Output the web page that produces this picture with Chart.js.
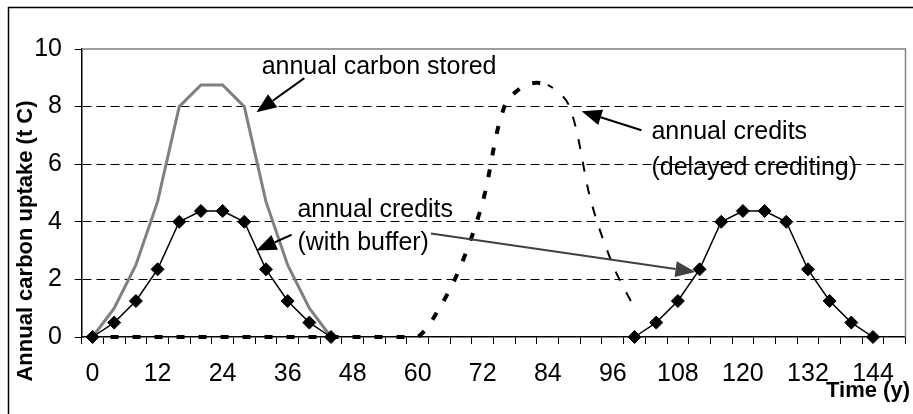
<!DOCTYPE html>
<html>
<head>
<meta charset="utf-8">
<script src="https://cdn.jsdelivr.net/npm/chart.js@4.4.1/dist/chart.umd.min.js"></script>
<style>
html,body{margin:0;padding:0;background:#ffffff;}
#wrap{width:913px;height:414px;position:relative;}
</style>
</head>
<body>
<div id="wrap"><canvas id="c"></canvas></div>
<script>
// ---- data ----
const years = [0,4,8,12,16,20,24,28,32,36,40,44,48,52,56,60,64,68,72,76,80,84,88,92,96,100,104,108,112,116,120,124,128,132,136,140,144,148];
const labelledYears = [0,12,24,36,48,60,72,84,96,108,120,132,144];
const yTickValues = [0,2,4,6,8,10];
const carbonStored = [0,1.0,2.5,4.7,8.0,8.75,8.75,8.0,4.7,2.5,1.0,0,
  null,null,null,null,null,null,null,null,null,null,null,null,null,null,null,null,null,null,null,null,null,null,null,null,null,null];
const creditsWithBuffer = [0,0.5,1.25,2.35,4.0,4.375,4.375,4.0,2.35,1.25,0.5,0,
  null,null,null,null,null,null,null,null,null,null,null,null,null,
  0,0.5,1.25,2.35,4.0,4.375,4.375,4.0,2.35,1.25,0.5,0,null];
const creditsDelayed = [0,0,0,0,0,0,0,0,0,0,0,0,0,0,0,0,1.0,2.5,4.7,8.0,8.75,8.75,8.0,4.7,2.5,1.0,
  null,null,null,null,null,null,null,null,null,null,null,null];
const yAxisTitle = 'Annual carbon uptake (t C)';
const xAxisTitle = 'Time (y)';

const FONT = '"Liberation Sans", Arial, Helvetica, sans-serif';

function drawArrow(ctx, x0, y0, x1, y1, color, len, half) {
  const a = Math.atan2(y1 - y0, x1 - x0);
  const bx = x1 - len * Math.cos(a), by = y1 - len * Math.sin(a);
  ctx.save();
  ctx.strokeStyle = color; ctx.lineWidth = 2;
  ctx.beginPath(); ctx.moveTo(x0, y0); ctx.lineTo(bx, by); ctx.stroke();
  ctx.fillStyle = color;
  ctx.beginPath();
  ctx.moveTo(x1, y1);
  ctx.lineTo(bx - half * Math.sin(a), by + half * Math.cos(a));
  ctx.lineTo(bx + half * Math.sin(a), by - half * Math.cos(a));
  ctx.closePath(); ctx.fill();
  ctx.restore();
}

const decor = {
  id: 'decor',
  beforeDatasetsDraw(chart) {
    const ctx = chart.ctx, a = chart.chartArea;
    ctx.save();
    // outer chart border
    ctx.strokeStyle = '#000'; ctx.lineWidth = 1.5;
    ctx.beginPath(); ctx.moveTo(8.5, 414); ctx.lineTo(8.5, 7.5); ctx.lineTo(913, 7.5); ctx.stroke();
    // plot area top & right border
    ctx.strokeStyle = '#808080'; ctx.lineWidth = 1.5;
    ctx.beginPath(); ctx.moveTo(a.left, a.top); ctx.lineTo(a.right, a.top); ctx.lineTo(a.right, a.bottom); ctx.stroke();
    // last boundary tick
    ctx.strokeStyle = '#000'; ctx.lineWidth = 1;
    ctx.beginPath(); ctx.moveTo(a.right, a.bottom); ctx.lineTo(a.right, a.bottom + 7); ctx.stroke();
    ctx.restore();
  },
  afterDatasetsDraw(chart) {
    const ctx = chart.ctx, xs = chart.scales.x, ys = chart.scales.y;
    const P = (i, v) => [xs.getPixelForValue(i), ys.getPixelForValue(v)];
    ctx.save();
    ctx.fillStyle = '#000';
    ctx.font = '25px ' + FONT;
    ctx.textAlign = 'left'; ctx.textBaseline = 'alphabetic';
    let p;
    p = P(7.8, 9.13); ctx.fillText('annual carbon stored', p[0], p[1]);
    p = P(25.78, 6.86); ctx.fillText('annual credits', p[0], p[1]);
    p = P(25.78, 5.64); ctx.fillText('(delayed crediting)', p[0], p[1]);
    p = P(9.45, 4.18); ctx.fillText('annual credits', p[0], p[1]);
    p = P(9.45, 3.03); ctx.fillText('(with buffer)', p[0], p[1]);
    let s, t;
    s = P(9.77, 8.99); t = P(7.56, 7.80); drawArrow(ctx, s[0], s[1], t[0], t[1], '#000', 20, 8);
    s = P(25.32, 7.18); t = P(22.56, 7.84); drawArrow(ctx, s[0], s[1], t[0], t[1], '#000', 20, 8);
    s = P(9.18, 3.55); t = P(7.56, 3.0); drawArrow(ctx, s[0], s[1], t[0], t[1], '#000', 20, 8);
    s = P(15.61, 3.59); t = P(27.81, 2.26); drawArrow(ctx, s[0], s[1], t[0], t[1], '#404040', 20, 8);
    // axis titles
    ctx.font = 'bold 22px ' + FONT;
    ctx.save();
    ctx.translate(26, 241); ctx.rotate(-Math.PI / 2);
    ctx.textAlign = 'center'; ctx.textBaseline = 'middle';
    ctx.fillText(yAxisTitle, 0, 0);
    ctx.restore();
    ctx.textAlign = 'right'; ctx.textBaseline = 'alphabetic';
    ctx.fillText(xAxisTitle, 910, 397);
    ctx.restore();
  }
};

const falling = c => c.p1.parsed.y < c.p0.parsed.y;

new Chart(document.getElementById('c'), {
  type: 'line',
  data: {
    labels: years.map(String),
    datasets: [
      {
        label: 'annual credits (with buffer)',
        data: creditsWithBuffer,
        borderColor: '#000', borderWidth: 1.5,
        pointStyle: 'rectRot', pointRadius: 6.5, pointBackgroundColor: '#000', pointBorderColor: '#000', pointBorderWidth: 1,
        tension: 0, clip: false, spanGaps: false
      },
      {
        label: 'annual credits (delayed crediting)',
        data: creditsDelayed,
        borderColor: '#000', borderWidth: 4, borderDash: [8, 14], borderDashOffset: 4,
        borderCapStyle: 'butt',
        pointRadius: 0, tension: 0.33, clip: false,
        segment: {
          borderWidth: c => falling(c) ? 2 : 4,
          borderDash: c => falling(c) ? [10, 13] : [8, 14]
        }
      },
      {
        label: 'annual carbon stored',
        data: carbonStored,
        borderColor: '#808080', borderWidth: 3,
        pointRadius: 0, tension: 0, clip: false
      }
    ]
  },
  options: {
    responsive: true, maintainAspectRatio: false, animation: false,
    layout: { padding: { left: 0, top: 49, right: 6, bottom: 0 } },
    plugins: { legend: { display: false }, tooltip: { enabled: false } },
    scales: {
      x: {
        type: 'category', offset: true,
        afterFit: s => { s.height = 77; },
        grid: { offset: true, drawOnChartArea: false, drawTicks: true, tickLength: 7, tickColor: '#000', tickWidth: 1 },
        border: { display: true, color: '#000', width: 1.5 },
        ticks: {
          autoSkip: false, maxRotation: 0, minRotation: 0, padding: 15, color: '#000',
          font: { family: FONT, size: 25 },
          callback: (v, i) => labelledYears.includes(years[i]) ? String(years[i]) : ''
        }
      },
      y: {
        min: 0, max: 10,
        afterFit: s => { s.width = 81.7; },
        afterBuildTicks: s => { s.ticks = yTickValues.map(v => ({ value: v })); },
        grid: {
          color: c => (c.tick && (c.tick.value === 0 || c.tick.value === 10)) ? 'rgba(0,0,0,0)' : '#000',
          lineWidth: 1, drawTicks: true, tickLength: 7, tickColor: '#000', tickWidth: 1, tickBorderDash: []
        },
        border: { display: true, color: '#000', width: 1.5, dash: [9, 5] },
        ticks: { padding: 12.7, color: '#000', font: { family: FONT, size: 25 } }
      }
    }
  },
  plugins: [decor]
});
</script>
</body>
</html>
